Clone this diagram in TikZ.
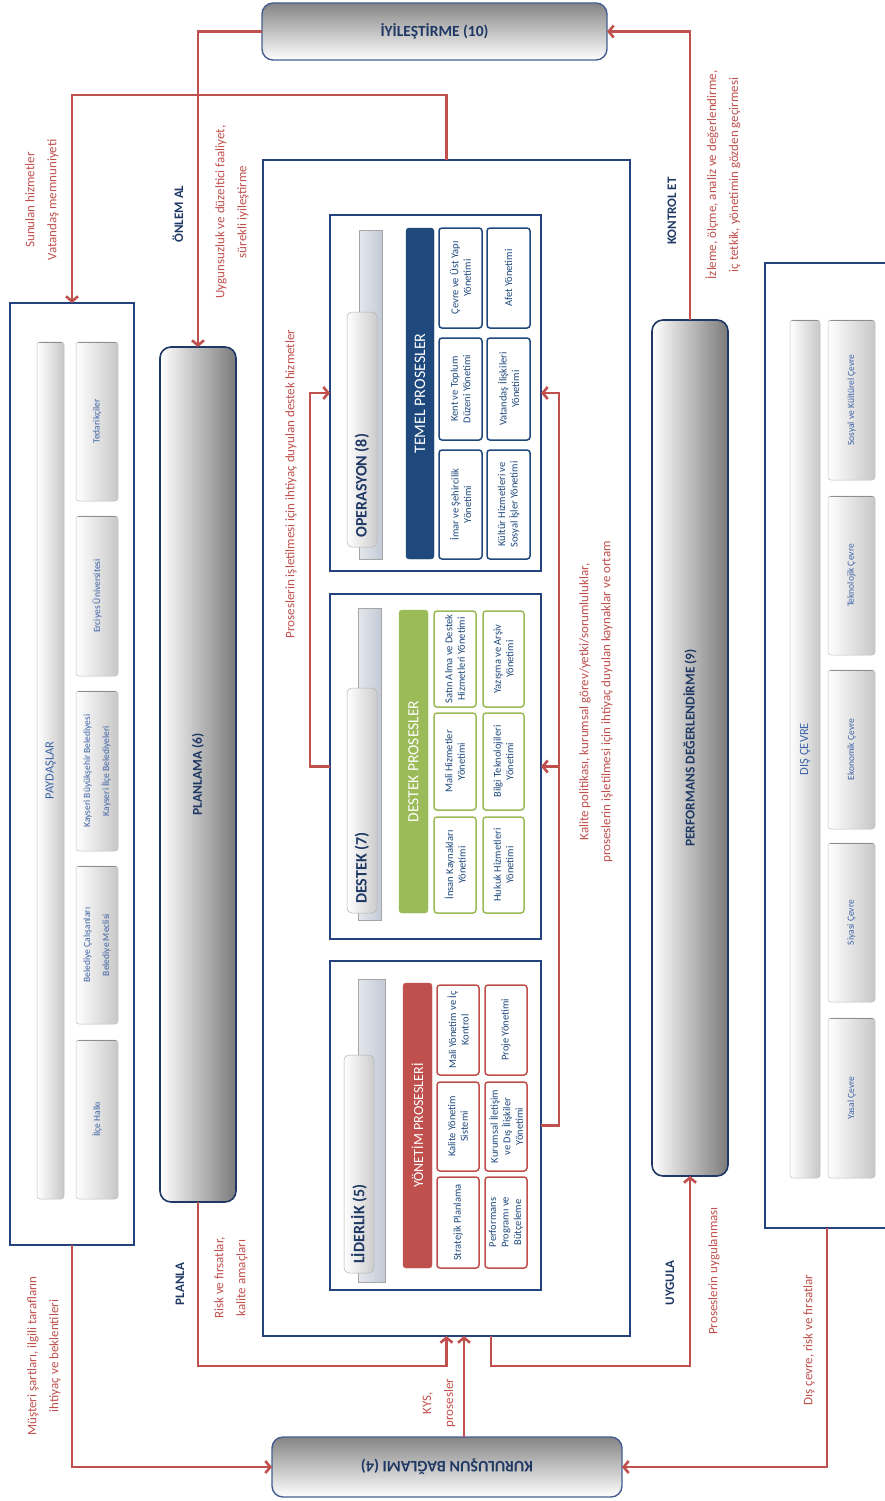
\documentclass[tikz,border=0pt]{standalone}
\usepackage{fontspec}
\setmainfont{Carlito}
\usetikzlibrary{arrows.meta,calc}
\definecolor{redc}{HTML}{C0504D}
\definecolor{navyd}{HTML}{1F3864}
\definecolor{navyb}{HTML}{24427E}
\definecolor{itemc}{HTML}{1F497D}
\definecolor{lblue}{HTML}{3E64A8}
\definecolor{temelc}{HTML}{1F497D}
\definecolor{destc}{HTML}{9BBB59}
\definecolor{yonc}{HTML}{C0504D}
\definecolor{barc}{HTML}{C3CAD6}
\newcommand\fs[2]{\fontsize{#1}{#2}\selectfont}
\newcommand\mkbox[6]{\node[#6,minimum width={(#4-#2)*1pt},minimum height={(#5-#3)*1pt},inner sep=0pt,outer sep=0pt] (#1) at ({(#2+#4)/2},{(#3+#5)/2}) {};}
\newcommand\mkitem[8]{\mkbox{#1}{#2}{#3}{#4}{#5}{#6}\node[#7] (#1t) at (#1.center) {#8};}
\tikzset{
 redline/.style={draw=redc, line width=2.6pt, -{Straight Barb[length=5pt,width=12pt]}},
 rlab/.style={text=redc, font=\fs{13}{22}, align=center, rotate=90, inner sep=0pt},
 blab/.style={text=navyd, font=\bfseries\fs{13}{15}, rotate=90, inner sep=0pt},
 frame/.style={draw=navyb, line width=1.2pt, fill=white},
 tube/.style={draw=navyd, line width=1.6pt, rounded corners=11pt, left color=white, middle color=black!10, right color=black!52},
 hcap/.style={draw=navyb!85, line width=1.4pt, rounded corners=11pt, top color=black!48, middle color=white, bottom color=white},
 gitem/.style={draw=black!25, line width=0.5pt, rounded corners=3pt, left color=white, right color=black!22,
   path picture={\draw[black!55,line width=2pt] (path picture bounding box.north west) -- (path picture bounding box.north east);}},
 hbar/.style={draw=black!35, line width=0.5pt, left color=barc!45, right color=barc},
 pill/.style={draw=black!30, line width=0.5pt, rounded corners=5pt, left color=white, right color=black!20},
 pbar/.style={rounded corners=3pt, fill=#1, draw=#1},
 pitem/.style={draw=#1, line width=1.5pt, rounded corners=3pt, fill=white},
 itx/.style={text=itemc, font=\fs{10.5}{12.5}, align=center, rotate=90, inner sep=0pt},
 gtx/.style={text=lblue, font=\fs{9.5}{19}, align=center, rotate=90, inner sep=0pt},
 htx/.style={text=lblue, font=\fs{12.5}{14}, rotate=90, inner sep=0pt},
 ptitle/.style={text=navyd, font=\bfseries\fs{16}{18}, rotate=90, inner sep=0pt, anchor=west},
 btitle/.style={text=white, font=\fs{#1}{16}, rotate=90, inner sep=0pt},
 ttl/.style={text=navyd, font=\bfseries\fs{13.5}{15}, rotate=90, inner sep=0pt}
}
\begin{document}
\begin{tikzpicture}[x=1pt,y=-1pt]
\useasboundingbox (0,0) rectangle (884,1501);
% ---- main boxes
\mkbox{iyi}{262}{3}{607}{60}{hcap}
\node[text=navyd,font=\bfseries\fs{15.5}{17}] (iyit) at (iyi.center) {İYİLEŞTİRME (10)};
\mkbox{kur}{272}{1437}{622}{1497}{hcap}
\node[text=navyd,font=\bfseries\fs{16}{18},rotate=180] (kurt) at (kur.center) {KURULUŞUN BAĞLAMI (4)};
\mkbox{inner}{263}{160}{630}{1336}{frame}
\mkbox{payd}{10}{303}{134}{1245}{frame}
\mkbox{dis}{765}{263}{889}{1228}{frame}
\mkitem{plan}{160}{347}{236}{1202}{tube}{ttl}{PLANLAMA (6)}
\mkitem{perf}{652}{320}{728}{1176}{tube}{ttl}{PERFORMANS DEĞERLENDİRME (9)}
% ---- PAYDASLAR
\mkitem{pbar}{37}{342}{64}{1199}{gitem}{htx}{PAYDAŞLAR}
\mkitem{pa}{76}{342}{118}{501}{gitem}{gtx}{Tedarikçiler}
\mkitem{pb}{76}{516}{118}{676}{gitem}{gtx}{Erciyes Üniversitesi}
\mkitem{pc}{76}{691}{118}{851}{gitem}{gtx}{Kayseri Büyükşehir Belediyesi\\Kayseri İlçe Belediyeleri}
\mkitem{pd}{76}{866}{118}{1024}{gitem}{gtx}{Belediye Çalışanları\\Belediye Meclisi}
\mkitem{pe}{76}{1040}{118}{1199}{gitem}{gtx}{İlçe Halkı}
% ---- DIS CEVRE
\mkitem{dbar}{790}{320}{820}{1178}{gitem}{htx}{DIŞ ÇEVRE}
\mkitem{da}{828}{320}{875}{480}{gitem}{gtx}{Sosyal ve Kültürel Çevre}
\mkitem{db}{828}{496}{875}{655}{gitem}{gtx}{Teknolojik Çevre}
\mkitem{dc}{828}{670}{875}{829}{gitem}{gtx}{Ekonomik Çevre}
\mkitem{dd}{828}{843}{875}{1002}{gitem}{gtx}{Siyasi Çevre}
\mkitem{de}{828}{1018}{875}{1178}{gitem}{gtx}{Yasal Çevre}
% ---- OPERASYON
\mkbox{oper}{330}{215}{541}{571}{frame}
\mkbox{operbar}{359}{230}{382}{559}{hbar}
\mkbox{operpill}{347}{312}{377}{547}{pill}
\node[ptitle] (opert) at ($(operpill.south)+(0,-9)$) {OPERASYON (8)};
\mkitem{temel}{406}{228}{434}{559}{pbar=temelc}{btitle=16}{TEMEL PROSESLER}
\mkitem{oa}{439}{228}{482}{328}{pitem=temelc}{itx}{Çevre ve Üst Yapı\\Yönetimi}
\mkitem{ob}{439}{338}{482}{440}{pitem=temelc}{itx}{Kent ve Toplum\\Düzeni Yönetimi}
\mkitem{oc}{439}{450}{482}{559}{pitem=temelc}{itx}{İmar ve Şehircilik\\Yönetimi}
\mkitem{od}{487}{228}{530}{328}{pitem=temelc}{itx}{Afet Yönetimi}
\mkitem{oe}{487}{338}{530}{440}{pitem=temelc}{itx}{Vatandaş İlişkileri\\Yönetimi}
\mkitem{of}{487}{450}{530}{559}{pitem=temelc}{itx}{Kültür Hizmetleri ve\\Sosyal İşler Yönetimi}
% ---- DESTEK
\mkbox{dest}{330}{594}{541}{939}{frame}
\mkbox{destbar}{358}{608}{381}{920}{hbar}
\mkbox{destpill}{347}{688}{377}{913}{pill}
\node[ptitle] (destt) at ($(destpill.south)+(0,-9)$) {DESTEK (7)};
\mkitem{destp}{399}{610}{428}{913}{pbar=destc}{btitle=15.5}{DESTEK PROSESLER}
\mkitem{sa}{434}{611}{476}{707}{pitem=destc}{itx}{Satın Alma ve Destek\\Hizmetleri Yönetimi}
\mkitem{sb}{434}{713}{476}{810}{pitem=destc}{itx}{Mali Hizmetler\\Yönetimi}
\mkitem{sc}{434}{817}{476}{913}{pitem=destc}{itx}{İnsan Kaynakları\\Yönetimi}
\mkitem{sd}{483}{611}{524}{707}{pitem=destc}{itx}{Yazışma ve Arşiv\\Yönetimi}
\mkitem{se}{483}{713}{524}{810}{pitem=destc}{itx}{Bilgi Teknolojileri\\Yönetimi}
\mkitem{sf}{483}{817}{524}{913}{pitem=destc}{itx}{Hukuk Hizmetleri\\Yönetimi}
% ---- LIDERLIK
\mkbox{lid}{330}{961}{541}{1290}{frame}
\mkbox{lidbar}{358}{979}{385}{1282}{hbar}
\mkbox{lidpill}{344}{1055}{374}{1273}{pill}
\node[ptitle] (lidt) at ($(lidpill.south)+(0,-9)$) {LİDERLİK (5)};
\mkitem{yon}{403}{983}{432}{1268}{pbar=yonc}{btitle=14}{YÖNETİM PROSESLERİ}
\mkitem{la}{437}{985}{479}{1075}{pitem=yonc}{itx}{Mali Yönetim ve İç\\Kontrol}
\mkitem{lb}{437}{1082}{479}{1171}{pitem=yonc}{itx}{Kalite Yönetim\\Sistemi}
\mkitem{lc}{437}{1177}{479}{1268}{pitem=yonc}{itx}{Stratejik Planlama}
\mkitem{ld}{485}{985}{527}{1075}{pitem=yonc}{itx}{Proje Yönetimi}
\mkitem{le}{485}{1082}{527}{1171}{pitem=yonc}{itx}{Kurumsal İletişim\\ve Dış İlişkiler\\Yönetimi}
\mkitem{lf}{485}{1177}{527}{1268}{pitem=yonc}{itx}{Performans\\Programı ve\\Bütçeleme}
% ---- helper coordinates
\coordinate (ytop) at (0,95);
\coordinate (ybot) at (0,1366);
\coordinate (kx) at (464,0);
\coordinate (ux) at (491,0);
\coordinate (lx) at (310,0);
\coordinate (rx) at (559,0);
% ---- connectors
\draw[redline] (iyi.west) -| (plan.north);
\draw[redline] (inner.north) |- (ytop -| payd.north) -- (payd.north);
\draw[redline] (perf.north) |- (iyi.east);
\draw[redline] (plan.south) |- (ybot -| inner.south) -- (inner.south);
\draw[redline] (kur.north -| kx) -- (inner.south -| kx);
\draw[redline] (inner.south -| ux) |- (ybot -| perf.south) -- (perf.south);
\draw[redline] (payd.south) |- (kur.west);
\draw[redline] (dis.south) |- (kur.east);
\draw[redline] (dest.west) -- (dest.west -| lx) |- (oper.west);
\draw[redline] (lid.east) -- (lid.east -| rx) |- (oper.east);
\draw[redline] (dest.east -| rx) -- (dest.east);
% ---- labels
\node[rlab] (l1) at (42,200) {Sunulan hizmetler\\Vatandaş memnuniyeti};
\node[blab] (l2) at (178,214) {ÖNLEM AL};
\node[rlab] (l3) at (232,212) {Uygunsuzluk ve düzeltici faaliyet,\\sürekli iyileştirme};
\node[blab] (l4) at (672,211) {KONTROL ET};
\node[rlab] (l5) at (723,175) {İzleme, ölçme, analiz ve değerlendirme,\\iç tetkik, yönetimin gözden geçirmesi};
\node[rlab] (l6) at (291,484) {Proseslerin işletilmesi için ihtiyaç duyulan destek hizmetler};
\node[rlab] (l7) at (596,702) {Kalite politikası, kurumsal görev/yetki/sorumluluklar,\\proseslerin işletilmesi için ihtiyaç duyulan kaynaklar ve ortam};
\node[blab] (l8) at (180,1284) {PLANLA};
\node[rlab] (l9) at (231,1278) {Risk ve fırsatlar,\\kalite amaçları};
\node[rlab] (l10) at (44,1356) {Müşteri şartları, ilgili tarafların\\ihtiyaç ve beklentileri};
\node[rlab] (l11) at (439,1403) {KYS,\\prosesler};
\node[blab] (l12) at (670,1283) {UYGULA};
\node[rlab] (l13) at (714,1271) {Proseslerin uygulanması};
\node[rlab] (l14) at (809,1340) {Dış çevre, risk ve fırsatlar};
\end{tikzpicture}
\end{document}
